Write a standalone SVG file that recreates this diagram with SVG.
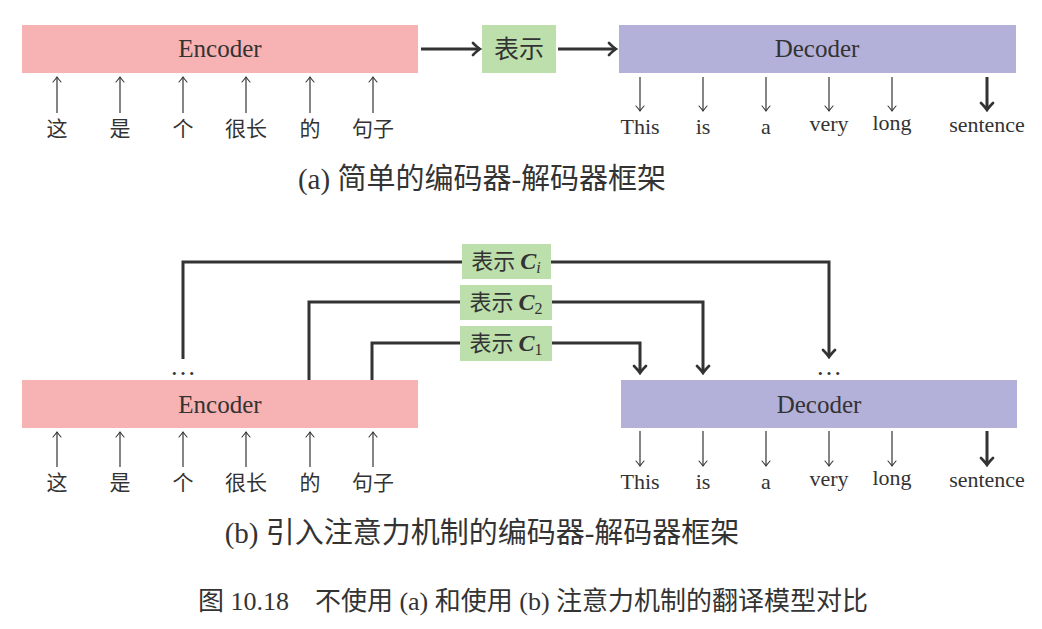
<svg xmlns="http://www.w3.org/2000/svg" width="1042" height="629" viewBox="0 0 1042 629">
<style>
.enc{fill:#F7B2B4}
.dec{fill:#B3B1D9}
.rep{fill:#BDDFAB}
.t{font-family:"Liberation Serif","Noto Sans CJK SC",serif;fill:#333}
.cjk{font-family:"Noto Sans CJK SC","Liberation Serif",sans-serif;fill:#333}
.box{font-size:25px;text-anchor:middle}
.lab{font-size:21px;text-anchor:middle}
.en{font-size:22px}
.thin{stroke:#333;stroke-width:1.2;fill:none}
.thick{stroke:#333;stroke-width:3;fill:none}
</style>
<defs>
<marker id="ah" markerUnits="userSpaceOnUse" viewBox="-10 -8 12 16" refX="0" refY="0" markerWidth="12" markerHeight="16" orient="auto">
<path d="M-7,-6 Q-2.5,-1.5 0,0 Q-2.5,1.5 -7,6" stroke="#333" stroke-width="2.6" fill="none" stroke-linecap="round"/>
</marker>
<marker id="as" markerUnits="userSpaceOnUse" viewBox="-8 -6 10 12" refX="0" refY="0" markerWidth="10" markerHeight="12" orient="auto">
<path d="M-5,-4 Q-1.5,-1 0,0 Q-1.5,1 -5,4" stroke="#333" stroke-width="1.1" fill="none" stroke-linecap="round"/>
</marker>
</defs>

<!-- (a) -->
<g id="encoder-a"><rect class="enc" x="22" y="25" width="396" height="48"/><text class="t box" x="220" y="57">Encoder</text></g>
<g id="repr-a"><rect class="rep" x="482" y="25" width="74" height="48"/><text class="cjk box" x="519" y="58" font-size="24">表示</text></g>
<g id="decoder-a"><rect class="dec" x="619" y="25" width="397" height="48"/><text class="t box" x="817" y="57">Decoder</text></g>

<g id="src-a" class="cjk lab">
<text x="57" y="136">这</text><text x="120" y="136">是</text><text x="183" y="136">个</text><text x="246" y="136">很长</text><text x="310" y="136">的</text><text x="373" y="136">句子</text>
</g>
<g id="tgt-a" class="t lab en">
<text x="640" y="134">This</text><text x="703" y="134">is</text><text x="766" y="134">a</text><text x="829" y="131">very</text><text x="892" y="130">long</text><text x="987" y="132">sentence</text>
</g>

<g id="connectors-a">
<path class="thick" d="M421,49 H480" marker-end="url(#ah)"/>
<path class="thick" d="M558,49 H616" marker-end="url(#ah)"/>
<g class="thin">
<path d="M57,113 V77" marker-end="url(#as)"/><path d="M120,113 V77" marker-end="url(#as)"/><path d="M183,113 V77" marker-end="url(#as)"/><path d="M246,113 V77" marker-end="url(#as)"/><path d="M310,113 V77" marker-end="url(#as)"/><path d="M373,113 V77" marker-end="url(#as)"/>
<path d="M640,77 V111" marker-end="url(#as)"/><path d="M703,77 V111" marker-end="url(#as)"/><path d="M766,77 V111" marker-end="url(#as)"/><path d="M829,77 V111" marker-end="url(#as)"/><path d="M892,77 V111" marker-end="url(#as)"/>
</g>
<path class="thick" d="M987,77 V110" marker-end="url(#ah)"/>
</g>

<text class="t" x="482" y="189" font-size="29" text-anchor="middle">(a) 简单的编码器-解码器框架</text>

<!-- (b) -->
<g id="connectors-b">
<path class="thick" d="M183,359 V262 H829 V357" marker-end="url(#ah)"/>
<path class="thick" d="M309,380 V302 H703 V373" marker-end="url(#ah)"/>
<path class="thick" d="M372,380 V343 H640 V373" marker-end="url(#ah)"/>
<g class="thin">
<path d="M57,467 V432" marker-end="url(#as)"/><path d="M120,467 V432" marker-end="url(#as)"/><path d="M183,467 V432" marker-end="url(#as)"/><path d="M246,467 V432" marker-end="url(#as)"/><path d="M310,467 V432" marker-end="url(#as)"/><path d="M373,467 V432" marker-end="url(#as)"/>
<path d="M640,431 V466" marker-end="url(#as)"/><path d="M703,431 V466" marker-end="url(#as)"/><path d="M766,431 V466" marker-end="url(#as)"/><path d="M829,431 V466" marker-end="url(#as)"/><path d="M892,431 V466" marker-end="url(#as)"/>
</g>
<path class="thick" d="M987,431 V465" marker-end="url(#ah)"/>
</g>

<g id="ci"><rect class="rep" x="462" y="244" width="89" height="35"/><text class="t" x="506" y="269" text-anchor="middle" font-size="22"><tspan class="cjk">表示 </tspan><tspan font-weight="bold" font-style="italic" font-size="24">C</tspan><tspan font-style="italic" font-size="16" dy="4">i</tspan></text></g>
<g id="c2"><rect class="rep" x="460" y="285" width="92" height="35"/><text class="t" x="506" y="310" text-anchor="middle" font-size="22"><tspan class="cjk">表示 </tspan><tspan font-weight="bold" font-style="italic" font-size="24">C</tspan><tspan font-size="16" dy="4">2</tspan></text></g>
<g id="c1"><rect class="rep" x="460" y="326" width="92" height="35"/><text class="t" x="506" y="351" text-anchor="middle" font-size="22"><tspan class="cjk">表示 </tspan><tspan font-weight="bold" font-style="italic" font-size="24">C</tspan><tspan font-size="16" dy="4">1</tspan></text></g>

<text class="t" x="183" y="375" font-size="26" text-anchor="middle">…</text>
<text class="t" x="829" y="375" font-size="26" text-anchor="middle">…</text>

<g id="encoder-b"><rect class="enc" x="22" y="380" width="396" height="48"/><text class="t box" x="220" y="413">Encoder</text></g>
<g id="decoder-b"><rect class="dec" x="621" y="380" width="396" height="48"/><text class="t box" x="819" y="413">Decoder</text></g>

<g id="src-b" class="cjk lab">
<text x="57" y="490">这</text><text x="120" y="490">是</text><text x="183" y="490">个</text><text x="246" y="490">很长</text><text x="310" y="490">的</text><text x="373" y="490">句子</text>
</g>
<g id="tgt-b" class="t lab en">
<text x="640" y="489">This</text><text x="703" y="489">is</text><text x="766" y="489">a</text><text x="829" y="486">very</text><text x="892" y="485">long</text><text x="987" y="487">sentence</text>
</g>

<text class="t" x="482" y="543" font-size="29" text-anchor="middle">(b) 引入注意力机制的编码器-解码器框架</text>

<text class="t" x="533" y="610" font-size="26" text-anchor="middle">图 10.18　不使用 (a) 和使用 (b) 注意力机制的翻译模型对比</text>
</svg>
